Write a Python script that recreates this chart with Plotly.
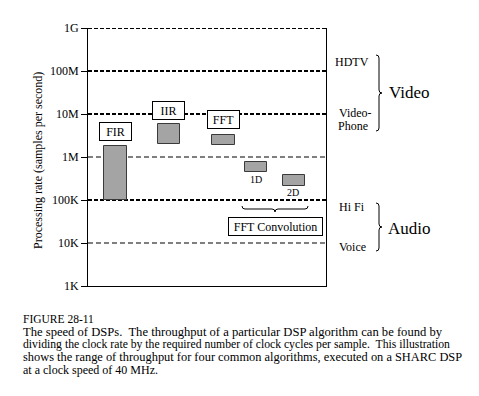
import plotly.graph_objects as go

# ---- data ----
algorithms = ["FIR", "IIR", "FFT", "1D", "2D"]
rate_low = [1.0e5, 2.0e6, 1.9e6, 4.5e5, 2.1e5]      # samples per second
rate_high = [1.8e6, 5.8e6, 3.2e6, 7.7e5, 3.8e5]
tick_values = [1e3, 1e4, 1e5, 1e6, 1e7, 1e8, 1e9]
tick_labels = ["1K", "10K", "100K", "1M", "10M", "100M", "1G"]
thick_lines = [1e5, 1e7, 1e8, 1e9]
thin_lines = [1e4, 1e6]
video_labels = ["HDTV", "Video-", "Phone"]
audio_labels = ["Hi Fi", "Voice"]

caption = [
    "FIGURE 28-11",
    "The speed of DSPs.\u00a0 The throughput of a particular DSP algorithm can be found by",
    "dividing the clock rate by the required number of clock cycles per sample.\u00a0 This illustration",
    "shows the range of throughput for four common algorithms, executed on a SHARC DSP",
    "at a clock speed of 40 MHz.",
]

# ---- layout constants (page body has an 8px margin) ----
OFF = 8
W, H = 479 - OFF, 396 - OFF
PLOT_L, PLOT_R, PLOT_T, PLOT_B = 88, 326, 28, 286   # in window pixels
L, T = PLOT_L - OFF, PLOT_T - OFF
R, B = 479 - PLOT_R, 396 - PLOT_B
PW, PH = PLOT_R - PLOT_L, PLOT_B - PLOT_T
bar_x = [0.1155, 0.340, 0.569, 0.706, 0.866]
bar_w = 0.094
FONT = "Liberation Serif, Times New Roman, serif"
cap_y = [319, 332, 344.5, 357, 369.5]
cap_size = [11.5, 12.6, 11.7, 12.4, 12]


def px(x):
    return (x - PLOT_L) / PW


def py(y):
    return (PLOT_B - y) / PH


fig = go.Figure()
fig.add_trace(go.Bar(
    x=bar_x, y=[h - l for h, l in zip(rate_high, rate_low)], base=rate_low,
    width=bar_w, marker=dict(color="#a4a4a4", line=dict(color="#3a3a3a", width=1)),
    hoverinfo="skip", showlegend=False,
))

shapes = []
for v in thick_lines:
    shapes.append(dict(type="line", xref="paper", yref="y", x0=0, x1=1, y0=v, y1=v,
                       line=dict(color="black", width=2, dash="4px,2px"), layer="below"))
for v in thin_lines:
    shapes.append(dict(type="line", xref="paper", yref="y", x0=0, x1=1, y0=v, y1=v,
                       line=dict(color="black", width=1.2, dash="5px,3px"), layer="below"))


def vbrace(x, y0, y1, d=3):
    ym = (y0 + y1) / 2
    p = (f"M {px(x-2)},{py(y0)} Q {px(x+1)},{py(y0)} {px(x+1)},{py(y0+3)} "
         f"L {px(x+1)},{py(ym-3)} Q {px(x+1)},{py(ym)} {px(x+1+d)},{py(ym)} "
         f"Q {px(x+1)},{py(ym)} {px(x+1)},{py(ym+3)} "
         f"L {px(x+1)},{py(y1-3)} Q {px(x+1)},{py(y1)} {px(x-2)},{py(y1)}")
    return dict(type="path", xref="paper", yref="paper", path=p,
                line=dict(color="black", width=1))


def hbrace(x0, x1, y, d=3):
    xm = (x0 + x1) / 2
    p = (f"M {px(x0)},{py(y-2)} Q {px(x0)},{py(y+1)} {px(x0+3)},{py(y+1)} "
         f"L {px(xm-3)},{py(y+1)} Q {px(xm)},{py(y+1)} {px(xm)},{py(y+1+d)} "
         f"Q {px(xm)},{py(y+1)} {px(xm+3)},{py(y+1)} "
         f"L {px(x1-3)},{py(y+1)} Q {px(x1)},{py(y+1)} {px(x1)},{py(y-2)}")
    return dict(type="path", xref="paper", yref="paper", path=p,
                line=dict(color="black", width=1))


shapes.append(vbrace(378, 55, 131))
shapes.append(vbrace(378, 203, 251))
shapes.append(hbrace(242, 308, 208))

ann = []


def note(text, x, y, xref="paper", size=12, xanchor="center", **kw):
    d = dict(x=x, y=py(y), xref=xref, yref="paper", text=text, showarrow=False,
             xanchor=xanchor, yanchor="middle",
             font=dict(family=FONT, size=size, color="black"))
    d.update(kw)
    ann.append(d)


box = dict(bgcolor="white", bordercolor="black", borderwidth=1, borderpad=2)
for i, cy in [(0, 131), (1, 110), (2, 120)]:
    note(algorithms[i], bar_x[i], cy, xref="x", width=27, height=13, **box)
note(algorithms[3], bar_x[3], 180, xref="x", size=10)
note(algorithms[4], bar_x[4] - 0.005, 192, xref="x", size=10)
note("FFT Convolution", px(275.5), 226, width=89, height=13, **box)

side = [(video_labels[0], 333, 62), (video_labels[1], 337, 113), (video_labels[2], 336, 126),
        (audio_labels[0], 337, 207), (audio_labels[1], 337, 247)]
for txt, x, y in side:
    note(txt, px(x), y, xanchor="left")
note("Video", px(387), 92, size=17, xanchor="left")
note("Audio", px(386), 228, size=17, xanchor="left")

note("Processing rate (samples per second)", px(38), 161, size=12, textangle=-90)

for line, yy, sz in zip(caption, cap_y, cap_size):
    note(line, px(21), yy, size=sz, xanchor="left")

fig.update_layout(
    width=W, height=H, margin=dict(l=L, r=R, t=T, b=B, pad=0, autoexpand=False),
    paper_bgcolor="white", plot_bgcolor="white",
    shapes=shapes, annotations=ann, bargap=0,
    xaxis=dict(range=[0, 1], showgrid=False, zeroline=False, showticklabels=False,
               ticks="", showline=True, linecolor="black", linewidth=1, fixedrange=True),
    yaxis=dict(type="log", range=[3, 9], showgrid=False, zeroline=False,
               tickvals=tick_values, ticktext=tick_labels, ticks="outside", ticklen=6,
               tickcolor="black", tickwidth=1, showline=True, mirror=True,
               linecolor="black", linewidth=1,
               tickfont=dict(family=FONT, size=12, color="black")),
    showlegend=False,
)

fig.write_html("out.html")
